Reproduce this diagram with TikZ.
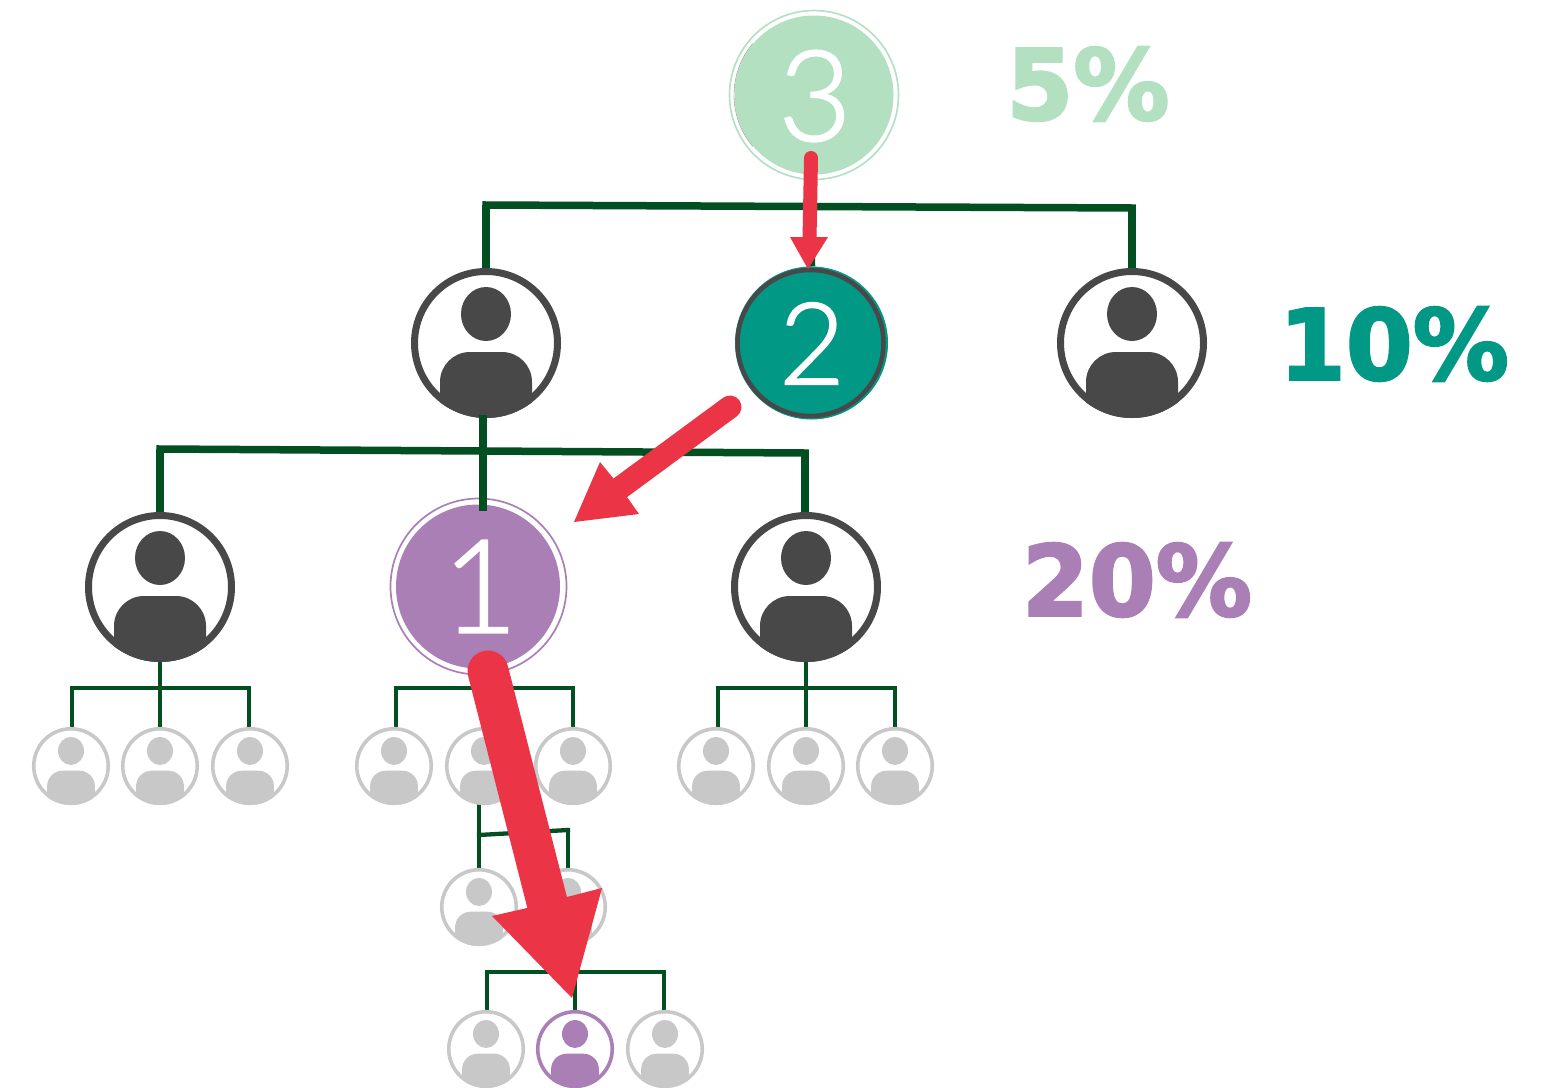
\documentclass[tikz,border=0pt]{standalone}
\usepackage{fontspec}
\setmainfont[FakeBold=1.6]{Lato Light}
\newfontfamily\pctfont[FakeBold=2.5]{DejaVu Sans Bold}
\usetikzlibrary{backgrounds}
\definecolor{treegreen}{HTML}{024F22}
\definecolor{icongray}{HTML}{484848}
\definecolor{lightgray}{HTML}{C8C8C8}
\definecolor{purp}{HTML}{AA7FB6}
\definecolor{teal2}{HTML}{029886}
\definecolor{mint}{HTML}{B4E0C2}
\definecolor{redarrow}{HTML}{EC3447}
\newcommand\person[7]{% name,x,y,scale,colour,line width,diameter
  \node[circle,draw=#5,fill=white,line width=#6,minimum size=#7,inner sep=0pt] (#1) at (#2,#3) {};
  \begin{scope}[shift={(#2,#3)},scale=#4]
    \clip (0,0) circle (75);
    \fill[#5] (0,-29) ellipse (25 and 27);
    \fill[#5] (-46,80) -- (-46,39) .. controls (-46,22.4) and (-32.6,9) .. (-16,9) -- (16,9) .. controls (32.6,9) and (46,22.4) .. (46,39) -- (46,80) -- cycle;
  \end{scope}}
\tikzset{
  x=1pt,y=-1pt,
  tierA/.style={draw=treegreen,line width=7.5pt},
  tierB/.style={draw=treegreen,line width=4.3pt},
  digit/.style={text=white,inner sep=0pt,anchor=center},
  pct/.style={inner sep=0pt,anchor=center,transform shape},
  redline/.style={draw=redarrow,line cap=round},
  redhead/.style={fill=redarrow}
}
\begin{document}
\begin{tikzpicture}
\useasboundingbox (0,0) rectangle (1542,1087);
% top-level badges
\node[circle,draw=mint,line width=1.6pt,minimum size=169pt,inner sep=0pt] (ringthree) at (814,95) {};
\node[circle,fill=mint,minimum size=159pt,inner sep=0pt] (three) at (814,95) {};
\draw[icongray!70,line width=.35pt] (814,95) ++(140:80) arc (140:220:80);
\node[digit,font=\fontsize{126}{126}\selectfont] (dthree) at (815,96) {3};
\node[circle,draw=teal2,fill=teal2,line width=1pt,minimum size=152pt,inner sep=0pt] (two) at (811.5,343) {};
\node[circle,draw=icongray,line width=4.5pt,minimum size=146pt,inner sep=0pt] (tworing) at (810.5,343) {};
\node[digit,font=\fontsize{114}{114}\selectfont] (dtwo) at (812,343.5) {2};
\person{pa}{486}{343}{1}{icongray}{7pt}{143pt}
\person{pb}{1132}{343}{1}{icongray}{7pt}{143pt}
\person{pc}{160}{587}{1}{icongray}{7pt}{143pt}
\person{pd}{806}{587}{1}{icongray}{7pt}{143pt}
\node[circle,draw=purp,line width=1.7pt,minimum size=176pt,inner sep=0pt] (ringone) at (478.5,586.5) {};
\node[circle,fill=purp,minimum size=164pt,inner sep=0pt] (one) at (478,586.5) {};
\node[digit,font=\fontsize{130}{130}\selectfont] (done) at (480,586.5) {1};
% small people
\foreach \n/\x in {s1/71,s2/160,s3/250,s4/394,s5/484,s6/573,s7/716,s8/806,s9/895}{
  \person{\n}{\x}{766}{.52}{lightgray}{3.6pt}{74.5pt}}
\person{r2}{568}{907}{.52}{lightgray}{3.6pt}{74.5pt}
\person{r1}{479}{907}{.52}{lightgray}{3.6pt}{74.5pt}
\person{b1}{486}{1049}{.52}{lightgray}{3.6pt}{74.5pt}
\person{b2}{575}{1049}{.52}{purp}{3.6pt}{74.5pt}
\person{b3}{665}{1049}{.52}{lightgray}{3.6pt}{74.5pt}
% junctions
\coordinate (ja1) at (486,205); \coordinate (ja2) at (811,207); \coordinate (ja3) at (1132,208);
\coordinate (jb1) at (160,449); \coordinate (jb2) at (483,451); \coordinate (jb3) at (805,453);
\coordinate (jbt) at (483,415); \coordinate (jbe) at (483,511);
\coordinate (jc1) at (72,688); \coordinate (jc2) at (160,688); \coordinate (jc3) at (249,688);
\coordinate (jd1) at (396,688); \coordinate (jd2) at (484,688); \coordinate (jd3) at (573,688);
\coordinate (je1) at (718,688); \coordinate (je2) at (806,688); \coordinate (je3) at (895,688);
\coordinate (jf0) at (479,800); \coordinate (jf1) at (479,835); \coordinate (jf2) at (568,830);
\coordinate (jg1) at (487,972); \coordinate (jg2) at (575,972); \coordinate (jg3) at (664,972);
\begin{pgfonlayer}{background}
  \fill[white] (0,0) rectangle (1542,1087);
  \draw[tierA,line cap=rect] (ja1) -- (ja3);
  \draw[tierA] (ja1) -- (ja1|-pa.north);
  \draw[tierA] (ja2) -- (two.north);
  \draw[tierA] (ja3) -- (ja3|-pb.north);
  \draw[tierA,line cap=rect] (jb1) -- (jb3);
  \draw[tierA] (jb1) -- (jb1|-pc.north);
  \draw[tierA] (jb3) -- (jb3|-pd.north);
  \draw[tierB,line cap=rect] (jc1) -- (jc3);
  \draw[tierB] (pc.south) -- (jc2) -- (s2.north);
  \draw[tierB] (jc1) -- (jc1|-s1.north);
  \draw[tierB] (jc3) -- (jc3|-s3.north);
  \draw[tierB,line cap=rect] (jd1) -- (jd3);
  \draw[tierB] (one.south) -- (jd2) -- (s5.north);
  \draw[tierB] (jd1) -- (jd1|-s4.north);
  \draw[tierB] (jd3) -- (jd3|-s6.north);
  \draw[tierB,line cap=rect] (je1) -- (je3);
  \draw[tierB] (pd.south) -- (je2) -- (s8.north);
  \draw[tierB] (je1) -- (je1|-s7.north);
  \draw[tierB] (je3) -- (je3|-s9.north);
  \draw[tierB] (jf0) -- (r1.north);
  \draw[tierB,line cap=rect] (jf1) -- (jf2);
  \draw[tierB] (jf2) -- (r2.north);
  \draw[tierB,line cap=rect] (jg1) -- (jg3);
  \draw[tierB] (jg1) -- (jg1|-b1.north);
  \draw[tierB] (jg2) -- (b2.north);
  \draw[tierB] (jg3) -- (jg3|-b3.north);
\end{pgfonlayer}
\draw[tierA] (jbt) -- (jbe);
% percentages
\begin{scope}[xscale=.98]
\node[pct,text=mint,font=\pctfont\fontsize{98}{98}\selectfont] (pfive) at (1088/.98,84) {5\%};
\node[pct,text=teal2,font=\pctfont\fontsize{98}{98}\selectfont] (pten) at (1394/.98,344) {10\%};
\node[pct,text=purp,font=\pctfont\fontsize{98}{98}\selectfont] (ptwenty) at (1137/.98,580) {20\%};
\end{scope}
% red arrows
\coordinate (ra1) at (811,158); \coordinate (ra2) at (809.5,240);
\draw[redline,line width=14pt] (ra1) -- (ra2);
\fill[redhead] (790,237) -- (828,237) -- (808,269) -- cycle;
\coordinate (rb1) at (730,407); \coordinate (rb2) at (620,488);
\draw[redline,line width=23pt] (rb1) -- (rb2);
\fill[redhead] (613,478) -- (600,462) -- (574,522) -- (639,514) -- (627,497) -- cycle;
\coordinate (rc1) at (488,671); \coordinate (rc2) at (547,902);
\draw[redline,line width=41pt] (rc1) -- (rc2);
\fill[redhead] (527,908) -- (492,916) -- (572,998) -- (602,888) -- (567,897) -- cycle;
\end{tikzpicture}
\end{document}
